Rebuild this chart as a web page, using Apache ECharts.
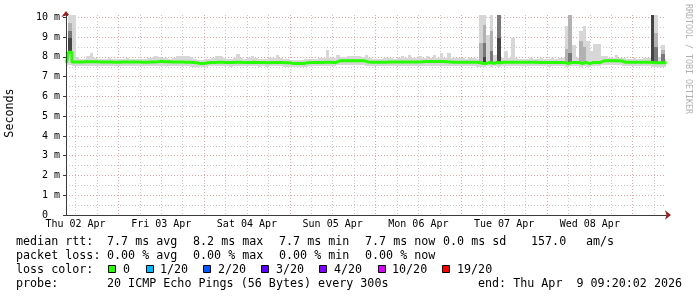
<!DOCTYPE html>
<html><head><meta charset="utf-8">
<script src="https://cdn.jsdelivr.net/npm/echarts@6/dist/echarts.min.js"></script>
<style>html,body{margin:0;padding:0;background:#fff}#c{width:697px;height:297px}</style>
</head><body><div id="c"></div>
<script>
// ---------- data ----------
const dayLabels = ['Thu 02 Apr','Fri 03 Apr','Sat 04 Apr','Sun 05 Apr','Mon 06 Apr','Tue 07 Apr','Wed 08 Apr'];
const dayLabelHours = [12,36,60,84,108,132,156];          // hours since Thu 02 Apr 00:00
const midnightHours = [24,48,72,96,120,144,168];
const sixHourHours = [12,18,30,36,42,54,60,66,78,84,90,102,108,114,126,132,138,150,156,162,174];
const yTicks = [0,1,2,3,4,5,6,7,8,9,10];                   // ms
const yMinorTicks = [0.5,1.5,2.5,3.5,4.5,5.5,6.5,7.5,8.5,9.5];
const rangeStartHour = 9 + 20/60 + 2/3600;                 // Thu 02 Apr 09:20:02
const rangeEndHour = rangeStartHour + 168;                  // Thu 09 Apr 09:20:02
const firstBucketHour = 9;                                   // hourly buckets
const yMaxMs = 10.12;

// median rtt per hourly bucket (ms)
const median = [
 7.70,8.24,7.74,7.74,7.74,7.75,7.75,7.76,7.75,7.74,
 7.74,7.74,7.74,7.73,7.73,7.74,7.74,7.74,7.74,7.74,
 7.74,7.73,7.73,7.74,7.74,7.75,7.78,7.76,7.75,7.74,
 7.74,7.74,7.74,7.73,7.73,7.72,7.70,7.66,7.66,7.70,
 7.72,7.72,7.73,7.73,7.72,7.72,7.72,7.73,7.73,7.72,
 7.72,7.72,7.73,7.72,7.72,7.72,7.71,7.72,7.72,7.72,
 7.72,7.71,7.70,7.66,7.66,7.66,7.67,7.70,7.72,7.72,
 7.72,7.72,7.73,7.73,7.72,7.72,7.80,7.81,7.81,7.81,
 7.81,7.81,7.80,7.80,7.74,7.73,7.73,7.73,7.73,7.73,
 7.74,7.74,7.74,7.74,7.74,7.74,7.74,7.74,7.74,7.75,
 7.77,7.77,7.77,7.77,7.77,7.77,7.75,7.74,7.73,7.73,
 7.73,7.73,7.73,7.73,7.73,7.72,7.67,7.67,7.72,7.67,
 7.72,7.70,7.73,7.73,7.73,7.73,7.73,7.73,7.73,7.73,
 7.73,7.73,7.72,7.72,7.72,7.72,7.72,7.72,7.72,7.72,
 7.66,7.72,7.72,7.72,7.66,7.72,7.66,7.72,7.72,7.72,
 7.80,7.80,7.80,7.80,7.80,7.79,7.73,7.73,7.73,7.73,
 7.73,7.73,7.73,7.73,7.70,7.70,7.70,7.70,7.70
];
// lowest ping per bucket (ms)
const smokeMin = [
 7.55,7.60,7.52,7.52,7.52,7.53,7.52,7.52,7.52,7.52,
 7.52,7.52,7.53,7.52,7.52,7.52,7.52,7.53,7.52,7.52,
 7.52,7.52,7.52,7.52,7.53,7.52,7.54,7.53,7.52,7.52,
 7.52,7.52,7.52,7.52,7.52,7.51,7.50,7.48,7.48,7.50,
 7.52,7.52,7.52,7.52,7.52,7.52,7.51,7.52,7.52,7.52,
 7.52,7.52,7.52,7.52,7.51,7.52,7.51,7.52,7.52,7.52,
 7.52,7.51,7.50,7.48,7.48,7.48,7.49,7.50,7.52,7.52,
 7.52,7.52,7.52,7.52,7.52,7.52,7.58,7.58,7.58,7.58,
 7.58,7.58,7.58,7.58,7.53,7.52,7.52,7.52,7.52,7.52,
 7.52,7.53,7.52,7.52,7.53,7.52,7.52,7.52,7.52,7.53,
 7.55,7.55,7.55,7.55,7.55,7.55,7.53,7.52,7.52,7.52,
 7.52,7.52,7.52,7.52,7.52,7.51,7.50,7.50,7.52,7.50,
 7.52,7.50,7.52,7.52,7.52,7.52,7.52,7.52,7.52,7.52,
 7.52,7.52,7.52,7.52,7.52,7.51,7.52,7.52,7.52,7.52,
 7.48,7.52,7.52,7.52,7.48,7.52,7.48,7.52,7.52,7.52,
 7.58,7.58,7.58,7.58,7.58,7.57,7.52,7.52,7.52,7.52,
 7.52,7.52,7.52,7.52,7.50,7.50,7.48,7.48,7.50
];
// highest ping per bucket (ms)
const smokeMax = [
 7.90,10.20,10.20,8.00,7.90,7.90,8.05,8.20,7.92,7.90,
 7.90,7.90,7.92,7.90,7.90,7.90,7.90,7.92,7.90,7.90,
 7.90,7.90,7.90,7.92,7.95,8.05,8.00,7.95,7.92,7.90,
 7.95,8.05,8.05,8.05,8.05,8.00,7.90,7.85,7.85,7.90,
 7.90,7.92,8.05,8.05,7.92,7.90,7.90,7.92,8.15,7.92,
 7.90,7.92,8.05,7.92,7.90,7.90,7.90,7.92,7.95,8.10,
 7.92,7.90,7.88,7.85,7.85,7.85,7.86,7.88,7.90,7.90,
 7.90,7.92,7.95,8.35,7.95,7.92,8.10,8.00,8.00,8.05,
 8.05,8.05,8.05,8.00,8.10,7.92,7.90,7.90,7.90,7.92,
 7.92,7.92,7.90,7.92,8.05,7.92,8.10,7.92,7.95,8.05,
 7.95,8.05,7.95,8.10,7.95,8.20,7.95,8.20,7.92,7.92,
 7.92,7.92,7.90,7.92,7.92,7.90,10.20,10.20,9.10,10.20,
 8.10,10.20,7.95,8.30,7.92,8.97,7.92,7.90,7.90,7.90,
 7.92,7.90,7.90,7.92,7.90,7.90,7.92,7.90,7.92,7.95,
 9.55,10.20,8.60,7.92,9.30,9.55,8.80,8.30,8.65,8.65,
 8.05,8.05,7.95,7.95,8.10,7.95,7.92,7.90,7.90,7.92,
 7.90,7.90,7.92,7.92,10.20,10.20,8.00,8.60,7.90
];
// denser smoke in the buckets with spikes (ms, top of each inner band)
const bandIdx  = [1,    116,  117,  119,  121,   140,  141,   144,  145,  164,   165,  167];
const band1Top = [9.70, 8.70, 9.60, 9.30, 10.20, 8.40, 10.20, 8.80, 8.50, 10.20, 9.20, 8.35];
const band2Top = [9.30, null, 8.70, 8.30, 10.20, null, 8.20,  null, null, 10.20, 8.50, 8.15];
const band3Top = [8.95, null, 8.00, null, 8.95,  null, null,  null, null, 10.20, null, null];

// legend texts
const rttLegend = ['median rtt:','7.7 ms avg','8.2 ms max','7.7 ms min','7.7 ms now','0.0 ms sd','157.0','am/s'];
const lossLegend = ['packet loss:','0.00 % avg','0.00 % max','0.00 % min','0.00 % now'];
const lossColorTitle = 'loss color:';
const lossColorLabels = ['0','1/20','2/20','3/20','4/20','10/20','19/20'];
const lossColors = ['#26ff00','#00b8ff','#0059ff','#5e00ff','#7e00ff','#dd00ff','#ff0000'];
const probeLegend = ['probe:','20 ICMP Echo Pings (56 Bytes) every 300s','end: Thu Apr  9 09:20:02 2026'];
const axisTitle = 'Seconds';
const watermark = 'RRDTOOL / TOBI OETIKER';

// ---------- layout / style ----------
const MONO = '"DejaVu Sans Mono", monospace';
const LEG_FONT = '11.7px ' + MONO;
const RED_GRID = '#e9a6a6', GREY_GRID = '#c9c9c9', AXIS = '#3a3a3a', ARROW = '#9a1f1f';
const SMOKE = ['#d7d7d7','#b2b2b2','#787878','#444444'];

const bandMap = {};
bandIdx.forEach((b, k) => { bandMap[b] = [band1Top[k], band2Top[k], band3Top[k]]; });

const chart = echarts.init(document.getElementById('c'), null, {renderer:'canvas', width:697, height:297});

function renderSmoke(params, api) {
  const i = api.value(2);
  const t0 = firstBucketHour + i, t1 = t0 + 1;
  const cs = params.coordSys;
  const clipArea = {x: cs.x, y: cs.y, width: cs.width, height: cs.height};
  const children = [];
  function band(lo, hi, color) {
    if (hi == null || hi <= lo) return;
    const a = api.coord([t0, hi]);
    const b = api.coord([t1, lo]);
    const x0 = Math.round(a[0]), x1 = Math.round(b[0]);
    const y0 = Math.round(a[1]), y1 = Math.round(b[1]);
    const r = echarts.graphic.clipRectByRect({x:x0, y:y0, width:x1-x0, height:y1-y0}, clipArea);
    if (r) children.push({type:'rect', shape:r, style:{fill:color}});
  }
  band(smokeMin[i], smokeMax[i], SMOKE[0]);
  const inner = bandMap[i];
  if (inner) {
    band(median[i], inner[0], SMOKE[1]);
    band(median[i], inner[1], SMOKE[2]);
    band(median[i], inner[2], SMOKE[3]);
  }
  return {type:'group', children};
}

const graphics = [];
function txt(text, x, y, extra) {
  graphics.push(Object.assign({type:'text', x, y, silent:true,
    style:{text, font:LEG_FONT, fill:'#000', verticalAlign:'middle', align:'left'}}, extra || {}));
}
const rttX = [16,107,193,279,365,443,531,586];
rttLegend.forEach((t,k)=>txt(t, rttX[k], 241.5));
const lossX = [16,107,193,279,365];
lossLegend.forEach((t,k)=>txt(t, lossX[k], 255.5));
txt(lossColorTitle, 16, 269.5);
const boxX = [108,146,203,261,319,378,442];
const boxLabelX = [123,160,218,276,334,392,457];
lossColorLabels.forEach((t,k)=>{
  graphics.push({type:'rect', silent:true, shape:{x:boxX[k]+0.5, y:265.5, width:7, height:7},
    style:{fill:lossColors[k], stroke:'#000', lineWidth:1}});
  txt(t, boxLabelX[k], 269.5);
});
const probeX = [16,107,478];
probeLegend.forEach((t,k)=>txt(t, probeX[k], 283.5));
graphics.push({type:'text', x:10, y:113, rotation:Math.PI/2, silent:true,
  style:{text:axisTitle, font:LEG_FONT, fill:'#000', align:'center', verticalAlign:'middle'}});
graphics.push({type:'text', x:688, y:4, rotation:-Math.PI/2, silent:true,
  style:{text:watermark, font:'8.3px ' + MONO, fill:'#b0b0b0', align:'left', verticalAlign:'middle'}});

const xCommon = {type:'value', min:rangeStartHour, max:rangeEndHour, position:'bottom'};
const yCommon = {type:'value', min:0, max:yMaxMs, position:'left'};

chart.setOption({
  animation:false,
  backgroundColor:'#ffffff',
  grid:{left:66, top:15, width:600, height:200},
  xAxis:[
    Object.assign({}, xCommon, {
      axisLine:{show:false, onZero:false},
      axisTick:{show:false, customValues:sixHourHours},
      axisLabel:{customValues:dayLabelHours, formatter:v=>dayLabels[dayLabelHours.indexOf(v)],
        fontFamily:MONO, fontSize:10, color:'#000', margin:4},
      splitLine:{show:true, lineStyle:{color:GREY_GRID, type:[1,2], width:1}}
    }),
    Object.assign({}, xCommon, {
      axisLine:{show:true, onZero:false, symbol:['none','arrow'], symbolSize:[7,6], symbolOffset:[0,5],
        lineStyle:{color:ARROW, width:1}},
      axisTick:{show:false, customValues:midnightHours},
      axisLabel:{show:false},
      splitLine:{show:true, lineStyle:{color:RED_GRID, type:[1,2], width:1}}
    }),
    Object.assign({}, xCommon, {
      z:5,
      axisLine:{show:true, onZero:false, lineStyle:{color:AXIS, width:1}},
      axisTick:{show:false}, axisLabel:{show:false}, splitLine:{show:false}
    })
  ],
  yAxis:[
    Object.assign({}, yCommon, {
      axisLine:{show:false, onZero:false},
      axisTick:{show:true, customValues:yTicks, length:3, lineStyle:{color:AXIS}},
      axisLabel:{customValues:yTicks, formatter:v=> v===0 ? '0  ' : v + ' m',
        fontFamily:MONO, fontSize:10, color:'#000', margin:6},
      splitLine:{show:true, lineStyle:{color:RED_GRID, type:[1,2], width:1}}
    }),
    Object.assign({}, yCommon, {
      axisLine:{show:true, onZero:false, symbol:['none','arrow'], symbolSize:[7,6], symbolOffset:[0,4],
        lineStyle:{color:ARROW, width:1}},
      axisTick:{show:false, customValues:yMinorTicks},
      axisLabel:{show:false},
      splitLine:{show:true, lineStyle:{color:GREY_GRID, type:[1,2], width:1}}
    }),
    Object.assign({}, yCommon, {
      z:5,
      axisLine:{show:true, onZero:false, lineStyle:{color:AXIS, width:1}},
      axisTick:{show:false}, axisLabel:{show:false}, splitLine:{show:false}
    })
  ],
  series:[
    {
      type:'custom', xAxisIndex:0, yAxisIndex:0, z:2,
      renderItem:renderSmoke,
      data: median.map((m,i)=>[firstBucketHour+i+0.5, m, i]),
      silent:true
    },
    {
      type:'line', xAxisIndex:0, yAxisIndex:0, z:3, step:'middle', symbol:'none', clip:true,
      data: median.map((m,i)=>[firstBucketHour+i+0.5, m]),
      lineStyle:{color:lossColors[0], width:3},
      silent:true
    }
  ],
  graphic: graphics
});
</script>
</body></html>
